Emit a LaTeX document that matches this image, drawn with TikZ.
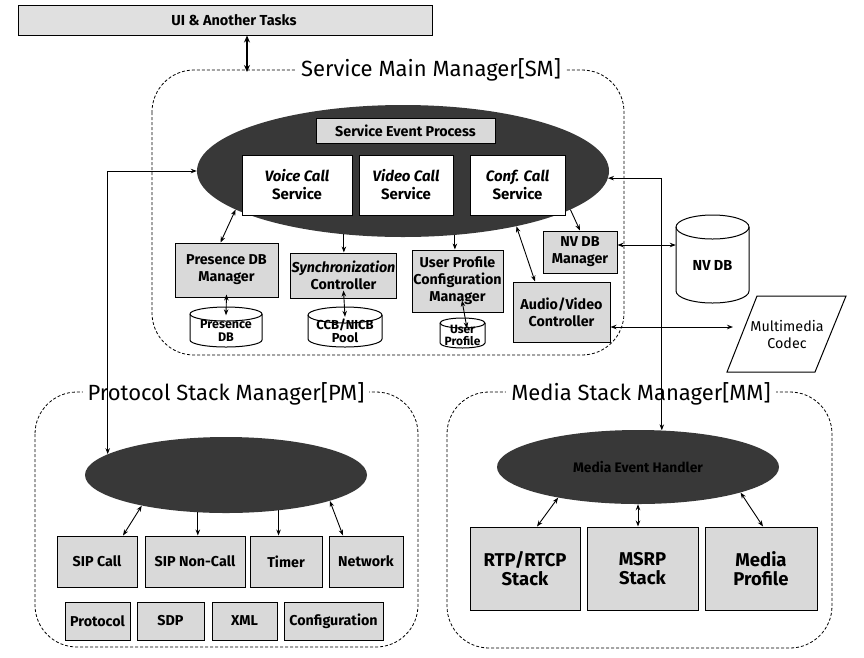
\documentclass[tikz,border=0pt]{standalone}
\usepackage{fontspec}
\setmainfont{Fira Sans}
\usetikzlibrary{arrows.meta,calc,shapes.geometric}
% #1 name, #2 x1, #3 y1, #4 x2, #5 y2, #6 ry, #7 font size, #8 text
\newcommand{\dbcyl}[8]{%
  \pgfmathsetmacro\cylrx{(#4-#2)/2}%
  \draw[line width=1pt, fill=white] (#2,#3+#6) -- (#2,#5-#6)
    arc[start angle=180,end angle=360,x radius=\cylrx pt,y radius=#6pt]
    -- (#4,#3+#6)
    arc[start angle=0,end angle=180,x radius=\cylrx pt,y radius=#6pt] -- cycle;
  \draw[line width=1pt] (#2,#3+#6)
    arc[start angle=180,end angle=360,x radius=\cylrx pt,y radius=#6pt];
  \node[align=center, inner sep=0pt, font=\bfseries\fontsize{#7}{#7}\selectfont,
        minimum width={(#4-#2)*1pt}, minimum height={(#5-#3)*1pt}]
    (#1) at ({(#2+#4)/2},{(#3+#5)/2+#6/2}) {#8};
}
\begin{document}
\begin{tikzpicture}[x=1pt,y=-1pt,
  box/.style={draw, line width=1pt, fill=black!15, align=center, inner sep=1pt,
              font=\bfseries\fontsize{14.3}{17}\selectfont},
  svc/.style={draw, line width=0.8pt, fill=white, align=center, inner sep=1pt,
              font=\bfseries\fontsize{15}{18}\selectfont},
  evt/.style={ellipse, draw=none, fill=black!78, inner sep=0pt},
  region/.style={draw, dash pattern=on 3pt off 2pt, line width=0.8pt, rounded corners=42pt},
  rtitle/.style={fill=white, inner xsep=5pt, inner ysep=1pt, font=\fontsize{22}{24}\selectfont},
  arr/.style={-{Stealth[length=6pt,width=4.5pt]}, line width=0.9pt},
  darr/.style={{Stealth[length=6pt,width=4.5pt]}-{Stealth[length=6pt,width=4.5pt]}, line width=0.9pt},
]
\useasboundingbox[fill=white] (0,0) rectangle (864,657);

% ---------- top bar ----------
\node[draw, line width=1pt, fill=black!12, minimum width=414pt, minimum height=30pt] (ui) at (225,20) {};
\node[font=\bfseries\fontsize{14.5}{16}\selectfont] (uitext) at (234,20) {UI \& Another Tasks};

% ---------- regions ----------
\draw[region] (152,70) rectangle (624,355);
\draw[region] (35,392) rectangle (418,647);
\draw[region] (447,392) rectangle (832,648);
\node[rtitle] (smt) at (431,70) {Service Main Manager[SM]};
\node[rtitle] (pmt) at (226,394) {Protocol Stack Manager[PM]};
\node[rtitle] (mmt) at (641,394) {Media Stack Manager[MM]};

% ---------- SM ----------
\node[evt, minimum width=412pt, minimum height=132pt] (smev) at (403,171) {};
\node[box, minimum width=179pt, minimum height=25pt, font=\bfseries\fontsize{14.3}{15}\selectfont] (sep) at (405.5,130.5) {Service Event Process};
\node[svc, minimum width=110pt, minimum height=60pt] (voice) at (297,185) {{\itshape Voice Call}\\Service};
\node[svc, minimum width=94pt, minimum height=60pt] (video) at (406,185) {{\itshape Video Call}\\Service};
\node[svc, minimum width=95pt, minimum height=60pt] (conf) at (517.5,185) {{\itshape Conf. Call}\\Service};

\node[box, minimum width=103pt, minimum height=54pt] (pdbm) at (226.5,270) {Presence DB\\Manager};
\node[box, minimum width=103pt, minimum height=45pt] (sync) at (343.5,275.5) {{\itshape Synchronization}\\Controller};
\node[box, minimum width=91pt, minimum height=62pt, inner sep=0pt] (upcm) at (457.5,281) {User Profile\\Configuration\\Manager};
\node[box, minimum width=74pt, minimum height=42pt] (nvdbm) at (580,252) {NV DB\\Manager};
\node[box, minimum width=97pt, minimum height=60pt] (av) at (561.5,312) {Audio/Video\\Controller};

\dbcyl{pdb}{190}{307}{262}{347}{7}{12.5}{Presence\\DB}
\dbcyl{ccb}{308}{307}{382}{347}{8}{13}{CCB/NICB\\Pool}
\dbcyl{upc}{440}{318}{485}{348}{5}{12}{User\\Profile}
\dbcyl{nvdb}{676}{215}{749}{303}{12}{14.5}{NV DB}

\draw[line width=1pt, fill=white] (757,296) -- (846,296) -- (815,372) -- (727,372) -- cycle;
\node[align=center, font=\fontsize{14.3}{17}\selectfont] (codec) at (787,334) {Multimedia\\Codec};
\coordinate (codecin) at (733,327);

% ---------- PM ----------
\node[evt, minimum width=282pt, minimum height=76pt] (pmev) at (226,475) {};
\node[box, minimum width=80pt, minimum height=51pt] (sipc) at (97,561.5) {SIP Call};
\node[box, minimum width=100pt, minimum height=51pt] (sipn) at (195,561.5) {SIP Non-Call};
\node[box, minimum width=72pt, minimum height=51pt] (timer) at (286,561.5) {Timer};
\node[box, minimum width=74pt, minimum height=51pt] (net) at (366,561.5) {Network};
\node[box, minimum width=65pt, minimum height=38pt] (proto) at (97.5,621) {Protocol};
\node[box, minimum width=67pt, minimum height=38pt] (sdp) at (170.5,621) {SDP};
\node[box, minimum width=65pt, minimum height=38pt] (xml) at (244.5,621) {XML};
\node[box, minimum width=99pt, minimum height=38pt] (cfg) at (333.5,621) {Configuration};

% ---------- MM ----------
\node[evt, minimum width=282pt, minimum height=74pt, font=\bfseries\fontsize{13.8}{15}\selectfont, text=black] (mmev) at (638,467) {Media Event Handler};
\node[box, minimum width=110pt, minimum height=83pt, font=\bfseries\fontsize{18.5}{19.5}\selectfont] (rtp) at (525,568.5) {RTP/RTCP\\Stack};
\node[box, minimum width=111pt, minimum height=83pt, font=\bfseries\fontsize{18.5}{19.5}\selectfont] (msrp) at (642.5,568.5) {MSRP\\Stack};
\node[box, minimum width=112pt, minimum height=83pt, font=\bfseries\fontsize{18.5}{19.5}\selectfont] (mprof) at (761,568.5) {Media\\Profile};

% ---------- connectors ----------
\coordinate (smin) at (247,72);
\draw[{Stealth[length=7pt,width=6pt]}-{Stealth[length=7pt,width=6pt]}, line width=1.6pt] (ui.south -| smin) -- (smin);

\draw[darr] (smev.west) -| (pmev.170);
\draw[darr] (smev.-2) -| (mmev.57);

\draw[darr] (smev.193) -- ($(pdbm.north)+(-6,0)$);
\draw[arr] (smev.-133.6) -- (smev.-133.6 |- sync.north);
\draw[arr] (smev.-51.4) -- (smev.-51.4 |- upcm.north);
\draw[arr] (smev.-13.1) -- (nvdbm.north);
\draw[darr] (smev.-26.2) -- ($(av.north west)!0.23!(av.north east)$);

\draw[darr] ($(pdbm.south)+(0,-3)$) -- ($(pdb.north)+(0,5)$);
\draw[darr] ($(sync.south)+(0,-8)$) -- ($(ccb.north)+(0,6)$);
\draw[darr] ($(upcm.south)+(4.5,-12)$) -- ($(upc.north)+(4.5,8)$);

\coordinate (nvl) at ($(nvdbm.east)+(0,-7)$);
\draw[darr] (nvl) -- (nvl -| nvdb.west);
\coordinate (avr) at ($(av.east)+(0,15)$);
\draw[darr] (avr) -- (codecin);

\draw[darr] (pmev.200.3) -- ($(sipc.north)+(26,0)$);
\draw[arr] (pmev.-127.9) -- (pmev.-127.9 |- sipn.north);
\draw[arr] (pmev.-34.8) -- (pmev.-34.8 |- timer.north);
\draw[darr] (pmev.-14.4) -- ($(net.north)+(-23,0)$);

\draw[darr] (mmev.-159.5) -- ($(rtp.north)+(12,0)$);
\draw[darr] (mmev.south) -- (mmev.south |- msrp.north);
\draw[darr] (mmev.-14.6) -- ($(mprof.north)+(2,0)$);
\end{tikzpicture}
\end{document}
